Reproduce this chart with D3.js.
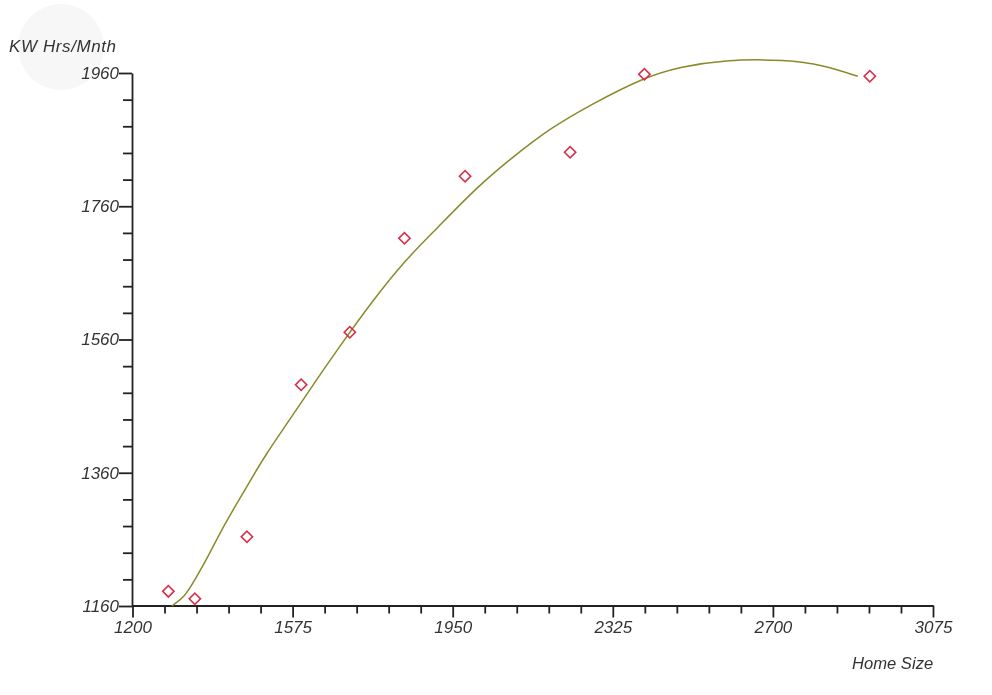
<!DOCTYPE html>
<html><head><meta charset="utf-8">
<script src="https://cdn.jsdelivr.net/npm/d3@7/dist/d3.min.js"></script>
<style>html,body{margin:0;padding:0;background:#fff}svg{display:block;filter:blur(0.35px)}
text{font-family:"Liberation Sans",Arial,sans-serif;font-style:italic;fill:#333;font-size:17px}</style>
</head><body><svg id="c" width="992" height="695"></svg>
<script>
const homeSize=[1284,1346,1468,1595,1709,1837,1979,2225,2399,2927];
const kwHours=[1182,1171,1264,1492,1571,1712,1805,1841,1958,1955];
const curveX=[1292,1323,1346,1382,1412,1468,1506,1592,1620,1679,1763,1843,1909,2007,2091,2178,2272,2396,2482,2583,2733,2817,2899];
const curveY=[1160,1174,1199,1240,1279,1339,1382,1462,1489,1544,1619,1682,1724,1789,1834,1877,1912,1953,1969,1980,1980,1972,1955];
const xTicks=[1200,1575,1950,2325,2700,3075];
const yTicks=[1160,1360,1560,1760,1960];
const svg=d3.select('#c');
const x=d3.scaleLinear().domain([1200,3075]).range([132.5,933]);
const y=d3.scaleLinear().domain([1160,1960]).range([606,73]);
svg.append('circle').attr('cx',61).attr('cy',47).attr('r',43).attr('fill','#f7f7f7');
const gx=svg.append('g').attr('transform','translate(0,605.5)');
gx.call(d3.axisBottom(x).tickValues(xTicks).tickSize(12).tickSizeOuter(0).tickFormat(d3.format('d')));
const gxm=svg.append('g').attr('transform','translate(0,605.5)');
gxm.call(d3.axisBottom(x).tickValues(d3.range(1200,3075,75).filter(v=>!xTicks.includes(v))).tickSize(8).tickFormat(''));
const gy=svg.append('g').attr('transform','translate(132,0)');
gy.call(d3.axisLeft(y).tickValues(yTicks).tickSize(13).tickSizeOuter(0).tickFormat(d3.format('d')));
const gym=svg.append('g').attr('transform','translate(132,0)');
gym.call(d3.axisLeft(y).tickValues(d3.range(1160,1960,40).filter(v=>!yTicks.includes(v))).tickSize(9).tickFormat(''));
[gx,gxm,gy,gym].forEach(g=>{g.selectAll('path,line').attr('stroke','#222').attr('stroke-width',1.8);g.selectAll('text').attr('fill','#333').style('font-size','17px').style('font-family','"Liberation Sans",Arial,sans-serif')});
gxm.select('.domain').remove();gym.select('.domain').remove();
gx.selectAll('text').attr('y',15);
gy.selectAll('text').attr('x',-13);
svg.append('path').datum(curveX.map((d,i)=>[d,curveY[i]]))
 .attr('fill','none').attr('stroke','#8a8a2a').attr('stroke-width',1.5)
 .attr('d',d3.line().x(d=>x(d[0])).y(d=>y(d[1])).curve(d3.curveBasis));
const sym=d3.symbol().type(d3.symbolSquare).size(64);
svg.selectAll('.pt').data(homeSize).join('path').attr('class','pt')
 .attr('d',sym).attr('fill','none').attr('stroke','#d8304a').attr('stroke-width',1.6)
 .attr('transform',(d,i)=>`translate(${x(d)},${y(kwHours[i])}) rotate(45)`);
svg.append('text').attr('x',9).attr('y',52).attr('letter-spacing',0.6).text('KW Hrs/Mnth');
svg.append('text').attr('x',852).attr('y',669).style('font-size','16.6px').text('Home Size');
</script></body></html>
